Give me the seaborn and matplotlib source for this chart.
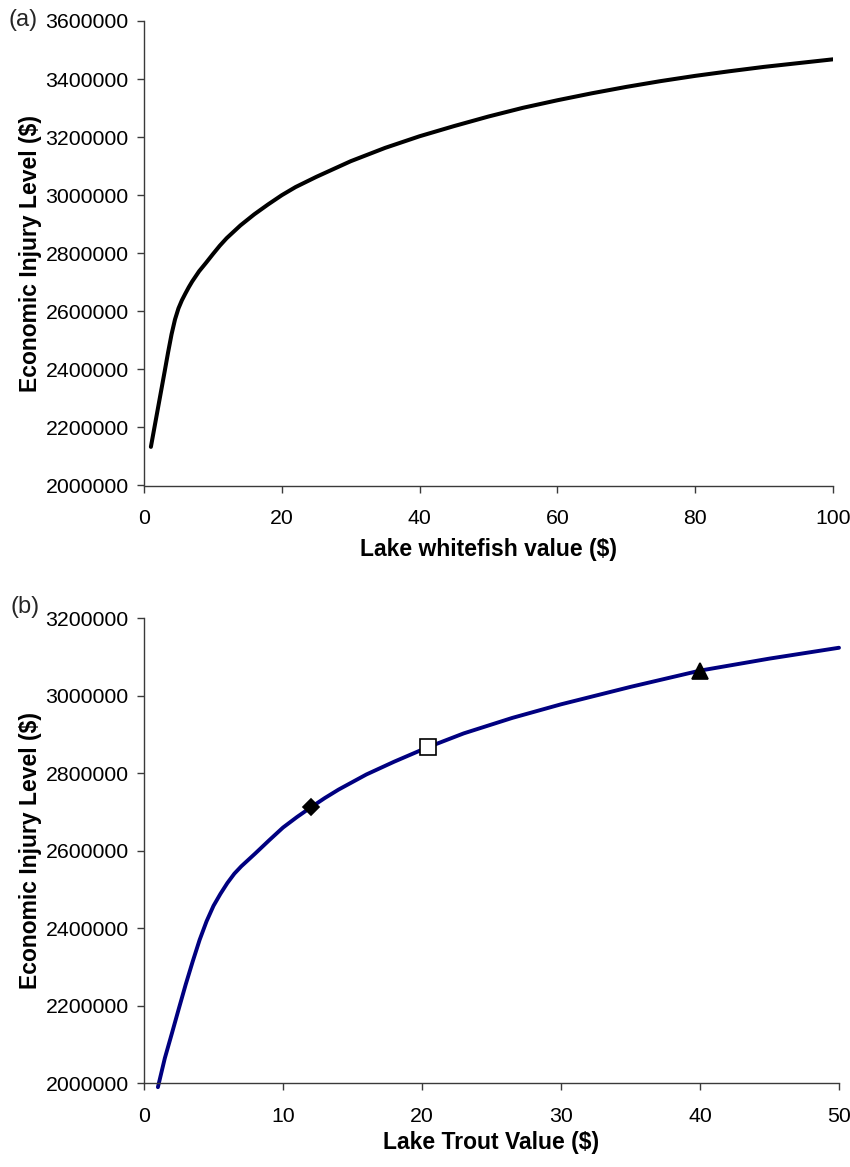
import matplotlib
matplotlib.use("Agg")
import matplotlib.pyplot as plt
import matplotlib.ticker as mticker
import seaborn as sns
import pandas as pd

# ---------------- data ----------------
whitefish_value = [1, 1.5, 2, 2.5, 3, 3.5, 4, 4.5, 5, 5.5, 6, 6.5, 7, 8, 9, 10, 11, 12,
                   13, 14, 16, 18, 20, 22, 25, 30, 35, 40, 45, 50, 55, 60, 65, 70, 75,
                   80, 85, 90, 95, 100]
whitefish_eil = [2133000, 2198000, 2263000, 2328000, 2393000, 2459000, 2521000, 2572000,
                 2610000, 2638000, 2661000, 2683000, 2703000, 2738000, 2767000, 2797000,
                 2826000, 2852000, 2874000, 2896000, 2934000, 2968000, 3000000, 3028000,
                 3063000, 3117000, 3163000, 3203000, 3238000, 3271000, 3301000, 3327000,
                 3351000, 3373000, 3393000, 3411000, 3427000, 3442000, 3455000, 3468000]

trout_value = [1, 1.5, 2, 2.5, 3, 3.5, 4, 4.5, 5, 5.5, 6, 6.5, 7, 8, 9, 10, 11, 12, 13,
               14, 16, 18, 20.4, 23, 26.5, 30, 35, 40, 45, 50]
trout_eil = [1990000, 2065000, 2128000, 2192000, 2255000, 2314000, 2370000, 2418000,
             2458000, 2489000, 2517000, 2541000, 2560000, 2593000, 2627000, 2660000,
             2687000, 2712000, 2736000, 2758000, 2797000, 2830000, 2867000, 2903000,
             2943000, 2978000, 3023000, 3065000, 3096000, 3124000]

marker_value = [12, 20.4, 40]
marker_eil = [2712000, 2867000, 3063000]
marker_shape = ["D", "s", "^"]
marker_face = ["black", "white", "black"]

top_xticks = [0, 20, 40, 60, 80, 100]
top_yticks = [2000000, 2200000, 2400000, 2600000, 2800000, 3000000, 3200000, 3400000, 3600000]
bot_xticks = [0, 10, 20, 30, 40, 50]
bot_yticks = [2000000, 2200000, 2400000, 2600000, 2800000, 3000000, 3200000]

# ---------------- styling ----------------
sns.set_theme(style="ticks")
plt.rcParams["font.family"] = ["Liberation Sans", "DejaVu Sans"]

W, H = 850, 1167
fig = plt.figure(figsize=(W / 100, H / 100), dpi=100)

ax1 = fig.add_axes([144 / W, 1 - 485.5 / H, (833 - 144) / W, (485.5 - 21) / H])
ax2 = fig.add_axes([144 / W, 1 - 1083.3 / H, (839 - 144) / W, (1083.3 - 618.3) / H])

df1 = pd.DataFrame({"x": whitefish_value, "y": whitefish_eil})
df2 = pd.DataFrame({"x": trout_value, "y": trout_eil})

sns.lineplot(data=df1, x="x", y="y", ax=ax1, color="black", linewidth=2.9,
             sort=False, estimator=None)
sns.lineplot(data=df2, x="x", y="y", ax=ax2, color="#000080", linewidth=2.8,
             sort=False, estimator=None)
for ln in ax2.lines:
    ln.set_clip_on(False)
    ln.set_solid_capstyle("round")
for ln in ax1.lines:
    ln.set_solid_capstyle("round")

sizes = {"D": 8.0, "s": 11.5, "^": 11.5}
for xv, yv, mk, fc in zip(marker_value, marker_eil, marker_shape, marker_face):
    ax2.plot([xv], [yv], linestyle="none", marker=mk, markersize=sizes[mk],
             markerfacecolor=fc, markeredgecolor="black", markeredgewidth=1.2,
             zorder=5)

spine_col = "#3a3a3a"
for ax, xt, yt, xl in [(ax1, top_xticks, top_yticks, "Lake whitefish value ($)"),
                       (ax2, bot_xticks, bot_yticks, "Lake Trout Value ($)")]:
    ax.set_xlim(xt[0], xt[-1])
    ax.set_ylim(yt[0], yt[-1])
    ax.set_xticks(xt)
    ax.set_yticks(yt)
    ax.yaxis.set_major_formatter(mticker.FormatStrFormatter("%d"))
    ax.xaxis.set_major_formatter(mticker.FormatStrFormatter("%d"))
    sns.despine(ax=ax)
    for s in ("left", "bottom"):
        ax.spines[s].set_color(spine_col)
        ax.spines[s].set_linewidth(1.0)
    ax.tick_params(axis="both", direction="out", length=5, width=1.0,
                   color=spine_col, labelsize=15.3, labelcolor="black")
    ax.tick_params(axis="y", pad=6)
    ax.tick_params(axis="x", pad=12)
    ax.set_xlabel(xl, fontsize=16.5, fontweight="bold", color="black")
    ax.set_ylabel("Economic Injury Level ($)", fontsize=16.5, fontweight="bold",
                  color="black")
    ax.set_facecolor("white")

ax1.yaxis.set_label_coords(-0.148, 0.5)
ax2.yaxis.set_label_coords(-0.147, 0.5)
ax1.xaxis.set_label_coords(0.5, -0.114)
ax2.xaxis.set_label_coords(0.5, -0.102)

fig.text(8 / W, 1 - 20 / H, "(a)", fontsize=17, ha="left", va="center")
fig.text(10 / W, 1 - 607 / H, "(b)", fontsize=17, ha="left", va="center")

fig.savefig("out.png", dpi=100, facecolor="white")
